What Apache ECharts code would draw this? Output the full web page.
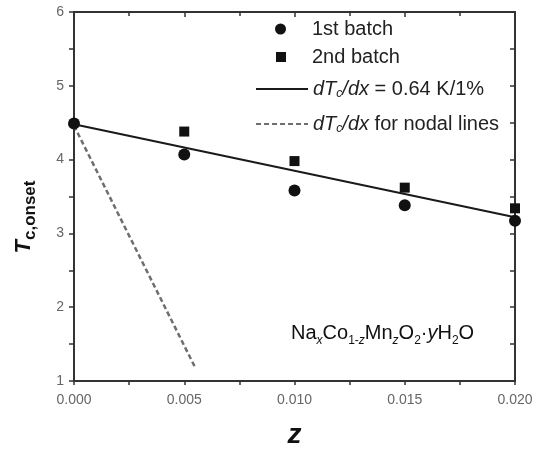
<!DOCTYPE html>
<html>
<head>
<meta charset="utf-8">
<script src="https://cdn.jsdelivr.net/npm/echarts@6/dist/echarts.min.js"></script>
<style>html,body{margin:0;padding:0;background:#fff;}#c{width:539px;height:450px;}</style>
</head>
<body>
<div id="c"></div>
<script>
// ---- data ----
const zValues = [0, 0.005, 0.010, 0.015, 0.020];
const batch1 = [4.49, 4.07, 3.58, 3.38, 3.17];
const batch2Z = [0.005, 0.010, 0.015, 0.020];
const batch2 = [4.38, 3.98, 3.62, 3.34];
const fitZ = [0, 0.020];
const fitT = [4.48, 3.22];
const nodalZ = [0, 0.0055];
const nodalT = [4.46, 1.18];
const xTickLabels = ['0.000', '0.005', '0.010', '0.015', '0.020'];
const yTickLabels = ['1', '2', '3', '4', '5', '6'];

const FONT = 'Liberation Sans';
const AX = '#333';

const chart = echarts.init(document.getElementById('c'), null, {renderer: 'canvas'});

function legendText(padLeft) {
  return {
    fontFamily: FONT, fontSize: 20, color: '#222', lineHeight: 22,
    padding: [0, 0, 0, padLeft],
    rich: {
      i: {fontFamily: FONT, fontSize: 20, fontStyle: 'italic', color: '#222', lineHeight: 22, verticalAlign: 'middle'},
      n: {fontFamily: FONT, fontSize: 20, color: '#222', lineHeight: 22, verticalAlign: 'middle'},
      s: {fontFamily: FONT, fontSize: 12, fontStyle: 'italic', color: '#222', lineHeight: 12, padding: [18, 0, 0, 0], verticalAlign: 'bottom'}
    }
  };
}
const legendBase = {
  orient: 'vertical', itemGap: 0, padding: 0, selectedMode: false
};

const option = {
  animation: false,
  backgroundColor: '#fff',
  grid: {left: 74, right: 24, top: 12, bottom: 69, containLabel: false, outerBoundsMode: 'none'},
  legend: [
    Object.assign({}, legendBase, {left: 275, top: 18, itemWidth: 11, itemHeight: 11, textStyle: legendText(21),
      data: [{name: '1st batch', icon: 'circle'}]}),
    Object.assign({}, legendBase, {left: 276, top: 46, itemWidth: 10, itemHeight: 10, textStyle: legendText(21),
      data: [{name: '2nd batch', icon: 'rect'}]}),
    Object.assign({}, legendBase, {left: 255, top: 70, itemWidth: 52, itemHeight: 10, textStyle: legendText(0),
      data: [{name: 'fit', itemStyle: {opacity: 0}}],
      formatter: function () { return '{i|dT}{s|c}{i|/dx}{n| = 0.64 K/1%}'; }}),
    Object.assign({}, legendBase, {left: 255, top: 105, itemWidth: 52, itemHeight: 10, textStyle: legendText(0),
      data: [{name: 'nodal', itemStyle: {opacity: 0}}],
      formatter: function () { return '{i|dT}{s|c}{i|/dx}{n| for nodal lines}'; }})
  ],
  xAxis: [
    {
      type: 'value', position: 'bottom', min: 0, max: 0.02, interval: 0.005,
      name: 'z', nameLocation: 'middle', nameGap: 40,
      nameTextStyle: {fontFamily: FONT, fontSize: 28, fontWeight: 'bold', fontStyle: 'italic', color: '#111', lineHeight: 28},
      axisLine: {show: true, onZero: false, lineStyle: {color: AX, width: 2}},
      axisTick: {show: true, inside: false, length: 4, lineStyle: {color: AX, width: 1.5}},
      minorTick: {show: true, splitNumber: 2, length: 4, lineStyle: {color: AX, width: 1.5}},
      splitLine: {show: false},
      axisLabel: {fontFamily: FONT, fontSize: 14, color: '#666', margin: 12,
        formatter: function (v) { return xTickLabels[Math.round(v / 0.005)]; }}
    },
    {
      type: 'value', position: 'top', min: 0, max: 0.02, interval: 0.005,
      axisLine: {show: true, onZero: false, lineStyle: {color: AX, width: 2}},
      axisTick: {show: true, inside: true, length: 5, lineStyle: {color: AX, width: 1.5}},
      minorTick: {show: true, splitNumber: 2, length: 4, lineStyle: {color: AX, width: 1.5}},
      splitLine: {show: false},
      axisLabel: {show: false}
    }
  ],
  yAxis: [
    {
      type: 'value', position: 'left', min: 1, max: 6, interval: 1,
      name: '{t|T}{s|c,onset}', nameLocation: 'middle', nameGap: 35,
      nameTextStyle: {
        padding: [0, 41, 0, 0],
        rich: {
          t: {fontFamily: FONT, fontSize: 22, fontWeight: 'bold', fontStyle: 'italic', color: '#111', lineHeight: 26, verticalAlign: 'top'},
          s: {fontFamily: FONT, fontSize: 17, fontWeight: 'bold', color: '#111', lineHeight: 17, padding: [19, 0, 0, 0], verticalAlign: 'bottom'}
        }
      },
      axisLine: {show: true, onZero: false, lineStyle: {color: AX, width: 2}},
      axisTick: {show: true, inside: false, length: 5, lineStyle: {color: AX, width: 1.5}},
      minorTick: {show: true, splitNumber: 2, length: 5, lineStyle: {color: AX, width: 1.5}},
      splitLine: {show: false},
      axisLabel: {fontFamily: FONT, fontSize: 14, color: '#666', margin: 10,
        formatter: function (v) { return yTickLabels[Math.round(v - 1)]; }}
    },
    {
      type: 'value', position: 'right', min: 1, max: 6, interval: 1,
      axisLine: {show: true, onZero: false, lineStyle: {color: AX, width: 2}},
      axisTick: {show: true, inside: true, length: 5, lineStyle: {color: AX, width: 1.5}},
      minorTick: {show: true, splitNumber: 2, length: 5, lineStyle: {color: AX, width: 1.5}},
      splitLine: {show: false},
      axisLabel: {show: false}
    }
  ],
  graphic: [
    {
      type: 'text', x: 291, y: 323, z: 10,
      style: {
        text: '{n|Na}{si|x}{n|Co}{s|1-}{si|z}{n|Mn}{si|z}{n|O}{s|2}{n|·}{i|y}{n|H}{s|2}{n|O}',
        align: 'left', verticalAlign: 'top',
        rich: {
          n: {fontFamily: FONT, fontSize: 20, fill: '#111', lineHeight: 24, verticalAlign: 'top'},
          i: {fontFamily: FONT, fontSize: 20, fontStyle: 'italic', fill: '#111', lineHeight: 24, verticalAlign: 'top'},
          s: {fontFamily: FONT, fontSize: 12, fill: '#111', lineHeight: 12, padding: [17, 0, 0, 0], verticalAlign: 'bottom'},
          si: {fontFamily: FONT, fontSize: 12, fontStyle: 'italic', fill: '#111', lineHeight: 12, padding: [17, 0, 0, 0], verticalAlign: 'bottom'}
        }
      }
    }
  ],
  series: [
    {
      name: 'nodal', type: 'line', xAxisIndex: 0, yAxisIndex: 0,
      data: nodalZ.map(function (z, i) { return [z, nodalT[i]]; }),
      symbol: 'none', silent: true, z: 2,
      lineStyle: {color: '#6e6e6e', width: 2.5, type: [5, 3]},
      itemStyle: {color: '#6e6e6e'}
    },
    {
      name: 'fit', type: 'line', xAxisIndex: 0, yAxisIndex: 0,
      data: fitZ.map(function (z, i) { return [z, fitT[i]]; }),
      symbol: 'none', silent: true, z: 3,
      lineStyle: {color: '#1a1a1a', width: 2},
      itemStyle: {color: '#1a1a1a'}
    },
    {
      name: '2nd batch', type: 'scatter', xAxisIndex: 0, yAxisIndex: 0,
      data: batch2Z.map(function (z, i) { return [z, batch2[i]]; }),
      symbol: 'rect', symbolSize: 10, z: 4,
      itemStyle: {color: '#111', opacity: 1}
    },
    {
      name: '1st batch', type: 'scatter', xAxisIndex: 0, yAxisIndex: 0,
      data: zValues.map(function (z, i) { return [z, batch1[i]]; }),
      symbol: 'circle', symbolSize: 12, z: 5,
      itemStyle: {color: '#111', opacity: 1}
    }
  ]
};
chart.setOption(option);
</script>
</body>
</html>
